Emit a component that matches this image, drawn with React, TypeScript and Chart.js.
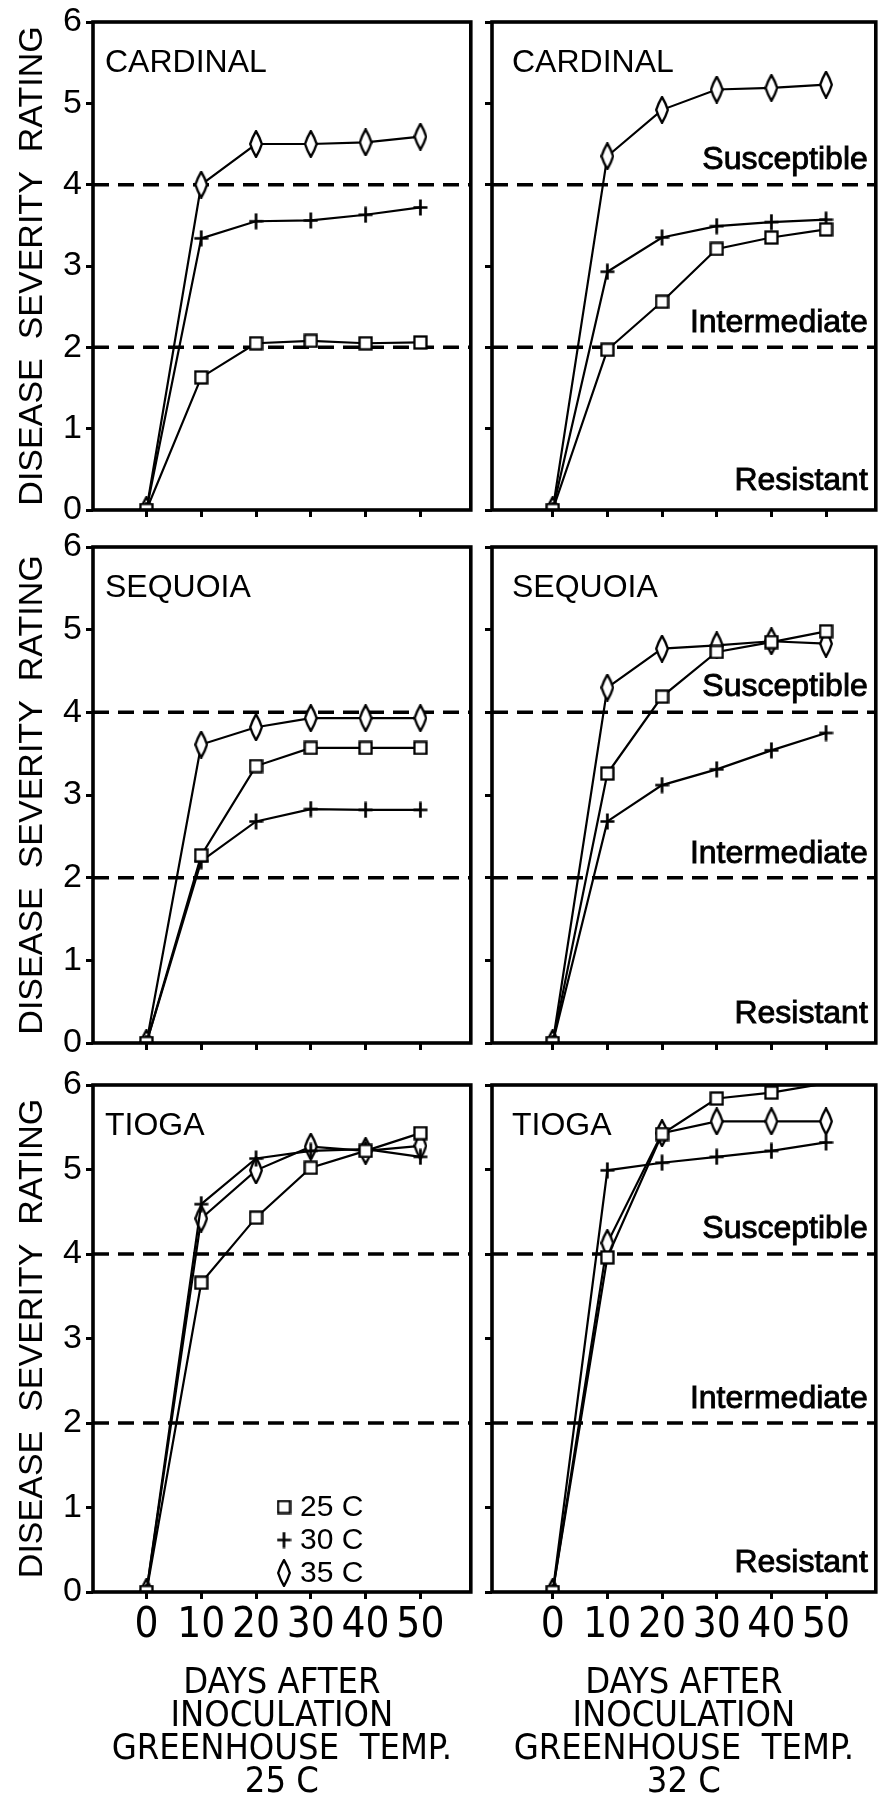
import React, { useEffect, useRef } from 'react';
import { Chart, registerables } from 'chart.js';

Chart.register(...registerables);

// ---------- data ----------
const days = [0, 10, 20, 30, 40, 50];
const xTickValues = [0, 10, 20, 30, 40, 50];
const yTickValues = [0, 1, 2, 3, 4, 5, 6];
const thresholds = [2, 4];
const zoneLabels = ['Resistant', 'Intermediate', 'Susceptible'];
const legendLabels = ['25 C', '30 C', '35 C'];
const cultivars = ['CARDINAL', 'SEQUOIA', 'TIOGA'];
const yTitle = 'DISEASE  SEVERITY  RATING';
const xTitle25 = ['DAYS AFTER', 'INOCULATION', 'GREENHOUSE  TEMP.', '25 C'];
const xTitle32 = ['DAYS AFTER', 'INOCULATION', 'GREENHOUSE  TEMP.', '32 C'];

// CARDINAL – greenhouse 25 C
const cardinalGH25_25C = [0, 1.63, 2.05, 2.08, 2.05, 2.06];
const cardinalGH25_30C = [0, 3.34, 3.55, 3.56, 3.63, 3.72];
const cardinalGH25_35C = [0, 4.0, 4.5, 4.5, 4.52, 4.59];
// CARDINAL – greenhouse 32 C
const cardinalGH32_25C = [0, 1.97, 2.56, 3.21, 3.35, 3.45];
const cardinalGH32_30C = [0, 2.93, 3.35, 3.49, 3.54, 3.57];
const cardinalGH32_35C = [0, 4.35, 4.92, 5.17, 5.19, 5.23];
// SEQUOIA – greenhouse 25 C
const sequoiaGH25_25C = [0, 2.27, 3.35, 3.57, 3.57, 3.57];
const sequoiaGH25_30C = [0, 2.2, 2.68, 2.83, 2.82, 2.82];
const sequoiaGH25_35C = [0, 3.61, 3.82, 3.93, 3.93, 3.93];
// SEQUOIA – greenhouse 32 C
const sequoiaGH32_25C = [0, 3.26, 4.19, 4.73, 4.85, 4.98];
const sequoiaGH32_30C = [0, 2.68, 3.12, 3.31, 3.54, 3.75];
const sequoiaGH32_35C = [0, 4.3, 4.77, 4.81, 4.86, 4.83];
// TIOGA – greenhouse 25 C
const tiogaGH25_25C = [0, 3.66, 4.43, 5.02, 5.22, 5.43];
const tiogaGH25_30C = [0, 4.59, 5.13, 5.22, 5.24, 5.15];
const tiogaGH25_35C = [0, 4.42, 4.99, 5.27, 5.22, 5.28];
// TIOGA – greenhouse 32 C
const tiogaGH32_25C = [0, 3.96, 5.42, 5.84, 5.91, 6.02];
const tiogaGH32_30C = [0, 4.99, 5.08, 5.15, 5.22, 5.32];
const tiogaGH32_35C = [0, 4.13, 5.43, 5.57, 5.57, 5.57];

// ---------- layout ----------
const FONT = "'Liberation Sans', Arial, sans-serif";
const NARROW = "'Liberation Sans Narrow', 'Arial Narrow', 'DejaVu Sans Condensed', sans-serif";

const COLS = [
  { left: 0, width: 480, axisWidth: 93, padRight: 5, xMin: -9.75, xMax: 59.2, nameInset: 12, yLabels: true },
  { left: 480, width: 405, axisWidth: 12, padRight: 7, xMin: -11.1, xMax: 59.1, nameInset: 20, yLabels: false },
];
const ROWS = [
  { top: 0, height: 530, padTop: 22, xAxisHeight: 20, bottom: false },
  { top: 530, height: 535, padTop: 17, xAxisHeight: 22, bottom: false },
  { top: 1065, height: 734, padTop: 20, xAxisHeight: 207, bottom: true },
];

const PANELS = [
  { r: 0, c: 0, name: cultivars[0], series: [cardinalGH25_25C, cardinalGH25_30C, cardinalGH25_35C], xTitle: xTitle25, legend: false },
  { r: 0, c: 1, name: cultivars[0], series: [cardinalGH32_25C, cardinalGH32_30C, cardinalGH32_35C], xTitle: xTitle32, legend: false },
  { r: 1, c: 0, name: cultivars[1], series: [sequoiaGH25_25C, sequoiaGH25_30C, sequoiaGH25_35C], xTitle: xTitle25, legend: false },
  { r: 1, c: 1, name: cultivars[1], series: [sequoiaGH32_25C, sequoiaGH32_30C, sequoiaGH32_35C], xTitle: xTitle32, legend: false },
  { r: 2, c: 0, name: cultivars[2], series: [tiogaGH25_25C, tiogaGH25_30C, tiogaGH25_35C], xTitle: xTitle25, legend: true },
  { r: 2, c: 1, name: cultivars[2], series: [tiogaGH32_25C, tiogaGH32_30C, tiogaGH32_35C], xTitle: xTitle32, legend: false },
];

// ---------- marker images ----------
function makeSquare() {
  const c = document.createElement('canvas');
  c.width = 15; c.height = 15;
  const g = c.getContext('2d')!;
  g.fillStyle = '#fff';
  g.fillRect(1.5, 1.5, 12, 12);
  g.strokeStyle = '#000';
  g.lineWidth = 2.3;
  g.strokeRect(1.5, 1.5, 12, 12);
  return c;
}
function makePlus() {
  const c = document.createElement('canvas');
  c.width = 15; c.height = 17;
  const g = c.getContext('2d')!;
  g.strokeStyle = '#000';
  g.lineWidth = 2.7;
  g.beginPath();
  g.moveTo(7.5, 0.5); g.lineTo(7.5, 16.5);
  g.moveTo(0.5, 8.5); g.lineTo(14.5, 8.5);
  g.stroke();
  return c;
}
function makeDiamond() {
  const c = document.createElement('canvas');
  c.width = 14; c.height = 28;
  const g = c.getContext('2d')!;
  g.beginPath();
  g.moveTo(7, 1.2);
  g.quadraticCurveTo(11, 8, 12.8, 14);
  g.quadraticCurveTo(11, 20, 7, 26.8);
  g.quadraticCurveTo(3, 20, 1.2, 14);
  g.quadraticCurveTo(3, 8, 7, 1.2);
  g.closePath();
  g.fillStyle = '#fff';
  g.fill();
  g.strokeStyle = '#000';
  g.lineWidth = 2.4;
  g.stroke();
  return c;
}

function toXY(vals: number[]) {
  return days.map((d, i) => ({ x: d, y: vals[i] }));
}

function buildChart(canvas: HTMLCanvasElement, p: any, mk: any[]) {
  const row = ROWS[p.r];
  const col = COLS[p.c];
  const datasets: any[] = p.series.map((vals: number[], i: number) => ({
    label: legendLabels[i],
    data: toXY(vals),
    borderColor: '#000',
    backgroundColor: '#000',
    borderWidth: 2.2,
    // a mark beyond the top of the frame is hidden, as in the original
    pointStyle: (ctx: any) => (ctx.raw && ctx.raw.y > 6 ? false : mk[i]),
    pointRadius: 7,
    pointHoverRadius: 7,
    tension: 0,
    fill: false,
    order: 1,
  }));
  thresholds.forEach((t) => {
    datasets.push({
      label: 'threshold ' + t,
      data: [{ x: col.xMin, y: t }, { x: col.xMax, y: t }],
      borderColor: '#000',
      borderWidth: 3.5,
      borderDash: [16, 9],
      pointRadius: 0,
      fill: false,
      order: 5,
    });
  });

  const annot = {
    id: 'annot',
    afterDatasetsDraw(chart: any) {
      const { ctx, chartArea: a, scales } = chart;
      ctx.save();
      ctx.strokeStyle = '#000';
      ctx.lineWidth = 3.6;
      ctx.strokeRect(a.left, a.top, a.right - a.left, a.bottom - a.top);
      ctx.fillStyle = '#000';
      ctx.font = `32px ${FONT}`;
      ctx.textAlign = 'left';
      ctx.textBaseline = 'alphabetic';
      ctx.fillText(p.name, a.left + col.nameInset, a.top + 50);
      if (p.c === 1) {
        const y = scales.y;
        ctx.textAlign = 'right';
        ctx.lineWidth = 0.9;
        const items = [
          [zoneLabels[2], y.getPixelForValue(thresholds[1]) - 16],
          [zoneLabels[1], y.getPixelForValue(thresholds[0]) - 15],
          [zoneLabels[0], y.getPixelForValue(0) - 20],
        ];
        items.forEach(([txt, yy]: any) => {
          ctx.fillText(txt, a.right - 8, yy);
          ctx.strokeText(txt, a.right - 8, yy);
        });
      }
      if (p.legend) {
        ctx.font = `30px ${FONT}`;
        ctx.textAlign = 'left';
        ctx.textBaseline = 'middle';
        const offs = [-85, -52, -19];
        legendLabels.forEach((lab, i) => {
          const cy = a.bottom + offs[i];
          const img = mk[i];
          ctx.drawImage(img, a.left + 191 - img.width / 2, cy - img.height / 2);
          ctx.fillText(lab, a.left + 207, cy + 1);
        });
      }
      ctx.restore();
    },
  };

  return new Chart(canvas, {
    type: 'line',
    data: { datasets },
    plugins: [annot],
    options: {
      responsive: false,
      animation: false,
      events: [],
      layout: { padding: { top: row.padTop, right: col.padRight, left: 0, bottom: 0 } },
      plugins: { legend: { display: false }, tooltip: { enabled: false }, title: { display: false } },
      scales: {
        x: {
          type: 'linear',
          min: col.xMin,
          max: col.xMax,
          afterBuildTicks: (s: any) => { s.ticks = xTickValues.map((v) => ({ value: v })); },
          afterFit: (s: any) => { s.height = row.xAxisHeight; s.paddingLeft = 0; s.paddingRight = 0; },
          grid: { display: true, drawOnChartArea: false, drawTicks: true, tickLength: 7, tickWidth: 3, tickColor: '#000', color: '#000' },
          border: { display: false },
          ticks: {
            display: row.bottom,
            autoSkip: false,
            maxRotation: 0,
            padding: 6,
            color: '#000',
            font: { family: NARROW, size: 42, lineHeight: 1 },
            callback: (v: any) => String(v),
          },
          title: {
            display: row.bottom,
            text: p.xTitle,
            color: '#000',
            font: { family: NARROW, size: 36, lineHeight: 33 / 36 },
            padding: { top: 0, bottom: 0 },
          },
        },
        y: {
          type: 'linear',
          min: 0,
          max: 6,
          afterBuildTicks: (s: any) => { s.ticks = yTickValues.map((v) => ({ value: v })); },
          afterFit: (s: any) => { s.width = col.axisWidth; s.paddingTop = 0; s.paddingBottom = 0; },
          grid: { display: true, drawOnChartArea: false, drawTicks: true, tickLength: 7, tickWidth: 3, tickColor: '#000', color: '#000' },
          border: { display: false },
          ticks: {
            display: col.yLabels,
            padding: 4,
            color: '#000',
            font: { family: FONT, size: 34, lineHeight: 1 },
            callback: (v: any) => String(v),
          },
          title: {
            display: col.yLabels,
            text: yTitle,
            color: '#000',
            font: { family: FONT, size: 34, lineHeight: 1.2 },
            padding: { top: 12, bottom: 0 },
          },
        },
      },
    },
  } as any);
}

export default function App() {
  const refs = useRef<(HTMLCanvasElement | null)[]>([]);
  useEffect(() => {
    const mk = [makeSquare(), makePlus(), makeDiamond()];
    const charts = PANELS.map((p, i) => buildChart(refs.current[i] as HTMLCanvasElement, p, mk));
    return () => charts.forEach((c) => c.destroy());
  }, []);
  return (
    <div style={{ position: 'absolute', left: 0, top: 0, width: 885, height: 1799, background: '#fff', overflow: 'hidden' }}>
      {PANELS.map((p, i) => {
        const row = ROWS[p.r];
        const col = COLS[p.c];
        return (
          <canvas
            key={i}
            ref={(el) => { refs.current[i] = el; }}
            width={col.width}
            height={row.height}
            style={{ position: 'absolute', left: col.left, top: row.top, width: col.width, height: row.height }}
          />
        );
      })}
    </div>
  );
}
